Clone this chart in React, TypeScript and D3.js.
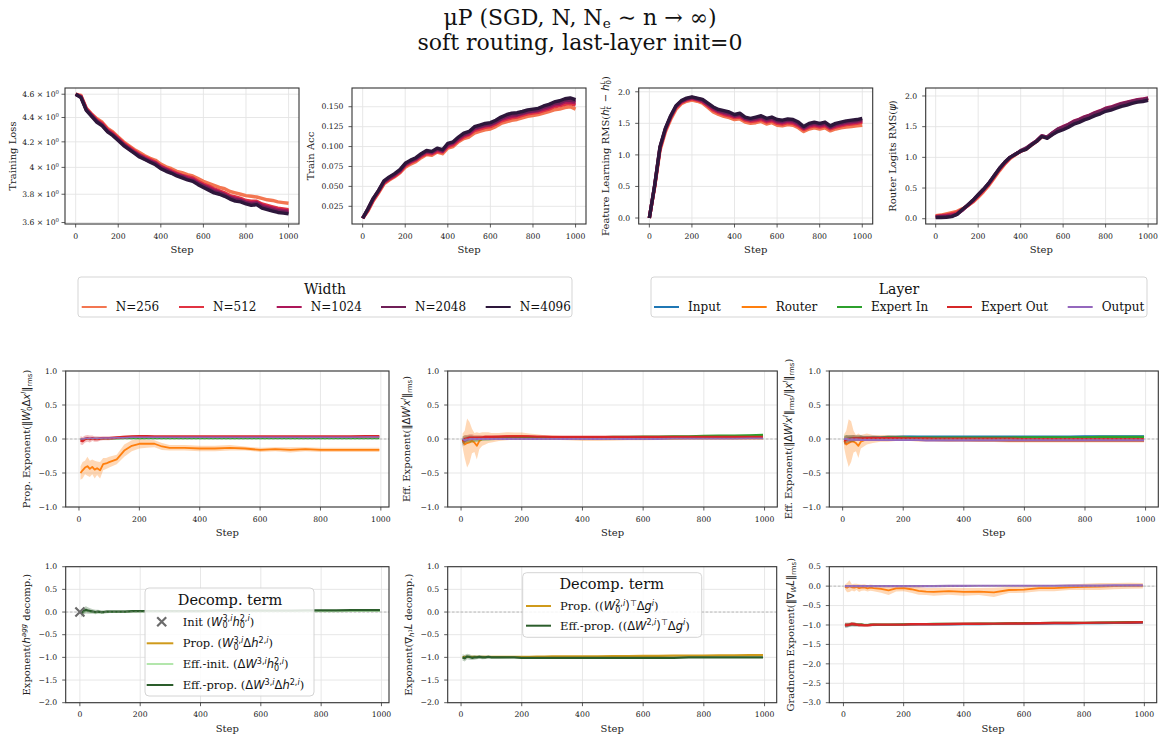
import React from 'react';
import * as d3 from 'd3';

const SERIF = "'DejaVu Serif', serif";
const SANS = "'DejaVu Sans', sans-serif";

// ---------------- DATA ----------------
const STEPS_TOP = [0, 25, 50, 75, 100, 125, 150, 175, 200, 225, 250, 275, 300, 325, 350, 375, 400, 425, 450, 475, 500, 525, 550, 575, 600, 625, 650, 675, 700, 725, 750, 775, 800, 825, 850, 875, 900, 925, 950, 975, 1000];
const WIDTH_LABELS = ['N=256', 'N=512', 'N=1024', 'N=2048', 'N=4096'];
const WIDTH_COLORS = ['#f37651', '#e13342', '#ad1759', '#701f57', '#2d173b'];

const LOSS_256 = [4.60, 4.59, 4.48, 4.43, 4.39, 4.36, 4.31, 4.28, 4.24, 4.20, 4.17, 4.14, 4.115, 4.09, 4.07, 4.055, 4.025, 4.005, 3.99, 3.97, 3.96, 3.945, 3.935, 3.915, 3.895, 3.88, 3.865, 3.85, 3.84, 3.82, 3.81, 3.80, 3.79, 3.785, 3.78, 3.77, 3.76, 3.755, 3.745, 3.74, 3.735];
const LOSS_512 = [4.60, 4.58, 4.475, 4.425, 4.38, 4.35, 4.30, 4.27, 4.23, 4.19, 4.16, 4.13, 4.10, 4.08, 4.06, 4.04, 4.01, 3.99, 3.975, 3.955, 3.94, 3.93, 3.92, 3.895, 3.875, 3.86, 3.84, 3.825, 3.81, 3.79, 3.78, 3.77, 3.755, 3.75, 3.75, 3.73, 3.72, 3.71, 3.70, 3.695, 3.69];
const LOSS_1024 = [4.60, 4.58, 4.47, 4.42, 4.37, 4.34, 4.29, 4.26, 4.22, 4.18, 4.15, 4.12, 4.095, 4.07, 4.05, 4.035, 4.005, 3.985, 3.965, 3.95, 3.935, 3.92, 3.91, 3.885, 3.865, 3.85, 3.83, 3.815, 3.80, 3.78, 3.77, 3.76, 3.745, 3.74, 3.74, 3.72, 3.71, 3.70, 3.69, 3.685, 3.68];
const LOSS_2048 = [4.60, 4.575, 4.465, 4.415, 4.37, 4.335, 4.285, 4.255, 4.215, 4.18, 4.145, 4.115, 4.09, 4.065, 4.045, 4.03, 3.995, 3.98, 3.96, 3.94, 3.93, 3.91, 3.90, 3.88, 3.86, 3.84, 3.82, 3.81, 3.795, 3.775, 3.76, 3.755, 3.74, 3.73, 3.735, 3.71, 3.70, 3.69, 3.68, 3.675, 3.67];
const LOSS_4096 = [4.60, 4.57, 4.46, 4.41, 4.36, 4.33, 4.28, 4.25, 4.21, 4.17, 4.14, 4.11, 4.08, 4.06, 4.04, 4.02, 3.99, 3.97, 3.955, 3.935, 3.92, 3.905, 3.895, 3.87, 3.85, 3.83, 3.81, 3.80, 3.785, 3.765, 3.75, 3.745, 3.73, 3.72, 3.725, 3.70, 3.69, 3.68, 3.67, 3.665, 3.66];

const ACC_256 = [0.010, 0.019, 0.032, 0.042, 0.053, 0.058, 0.062, 0.067, 0.074, 0.078, 0.081, 0.086, 0.090, 0.089, 0.093, 0.091, 0.098, 0.100, 0.106, 0.110, 0.112, 0.117, 0.119, 0.121, 0.122, 0.125, 0.129, 0.131, 0.133, 0.134, 0.136, 0.138, 0.139, 0.140, 0.142, 0.144, 0.146, 0.147, 0.149, 0.150, 0.147];
const ACC_512 = [0.010, 0.020, 0.033, 0.043, 0.054, 0.059, 0.063, 0.068, 0.076, 0.080, 0.083, 0.088, 0.091, 0.091, 0.094, 0.093, 0.100, 0.102, 0.108, 0.112, 0.115, 0.120, 0.122, 0.124, 0.125, 0.128, 0.132, 0.134, 0.136, 0.137, 0.139, 0.141, 0.142, 0.143, 0.145, 0.147, 0.150, 0.151, 0.153, 0.154, 0.152];
const ACC_1024 = [0.010, 0.021, 0.034, 0.044, 0.055, 0.060, 0.064, 0.069, 0.077, 0.081, 0.084, 0.089, 0.093, 0.092, 0.096, 0.094, 0.101, 0.104, 0.109, 0.114, 0.116, 0.122, 0.124, 0.126, 0.127, 0.130, 0.134, 0.136, 0.138, 0.139, 0.141, 0.143, 0.144, 0.145, 0.147, 0.149, 0.152, 0.153, 0.156, 0.156, 0.155];
const ACC_2048 = [0.010, 0.022, 0.035, 0.045, 0.056, 0.061, 0.065, 0.070, 0.078, 0.082, 0.085, 0.090, 0.094, 0.093, 0.097, 0.095, 0.103, 0.105, 0.111, 0.115, 0.118, 0.123, 0.125, 0.127, 0.128, 0.131, 0.135, 0.138, 0.140, 0.140, 0.142, 0.144, 0.145, 0.146, 0.149, 0.151, 0.154, 0.155, 0.158, 0.158, 0.157];
const ACC_4096 = [0.010, 0.022, 0.035, 0.045, 0.057, 0.062, 0.066, 0.071, 0.079, 0.083, 0.086, 0.091, 0.095, 0.094, 0.098, 0.096, 0.104, 0.106, 0.112, 0.117, 0.119, 0.125, 0.127, 0.129, 0.130, 0.133, 0.137, 0.140, 0.142, 0.1425, 0.144, 0.146, 0.147, 0.148, 0.151, 0.153, 0.156, 0.1575, 0.160, 0.161, 0.159];

const FEAT_256 = [0.0, 0.49, 1.07, 1.36, 1.56, 1.72, 1.81, 1.85, 1.87, 1.85, 1.82, 1.75, 1.68, 1.64, 1.61, 1.59, 1.56, 1.57, 1.52, 1.50, 1.51, 1.53, 1.49, 1.51, 1.47, 1.46, 1.48, 1.47, 1.43, 1.37, 1.41, 1.43, 1.41, 1.43, 1.38, 1.41, 1.43, 1.44, 1.45, 1.46, 1.47];
const FEAT_512 = [0.0, 0.50, 1.10, 1.39, 1.59, 1.75, 1.83, 1.87, 1.89, 1.87, 1.84, 1.78, 1.71, 1.67, 1.64, 1.62, 1.59, 1.60, 1.55, 1.53, 1.54, 1.56, 1.52, 1.54, 1.50, 1.49, 1.51, 1.50, 1.46, 1.40, 1.44, 1.46, 1.44, 1.46, 1.41, 1.44, 1.46, 1.48, 1.49, 1.50, 1.52];
const FEAT_1024 = [0.0, 0.51, 1.11, 1.40, 1.60, 1.76, 1.84, 1.88, 1.90, 1.88, 1.85, 1.79, 1.73, 1.69, 1.66, 1.64, 1.61, 1.62, 1.57, 1.55, 1.56, 1.58, 1.54, 1.56, 1.52, 1.51, 1.53, 1.52, 1.48, 1.42, 1.46, 1.48, 1.46, 1.48, 1.43, 1.46, 1.48, 1.50, 1.51, 1.52, 1.54];
const FEAT_2048 = [0.0, 0.52, 1.12, 1.41, 1.61, 1.77, 1.85, 1.89, 1.91, 1.89, 1.87, 1.81, 1.75, 1.70, 1.68, 1.66, 1.62, 1.64, 1.58, 1.56, 1.58, 1.60, 1.56, 1.58, 1.54, 1.53, 1.55, 1.54, 1.50, 1.43, 1.48, 1.50, 1.48, 1.50, 1.44, 1.48, 1.50, 1.52, 1.53, 1.54, 1.56];
const FEAT_4096 = [0.0, 0.52, 1.13, 1.42, 1.62, 1.78, 1.86, 1.90, 1.92, 1.90, 1.88, 1.82, 1.76, 1.72, 1.70, 1.68, 1.64, 1.66, 1.60, 1.58, 1.60, 1.62, 1.58, 1.60, 1.56, 1.55, 1.57, 1.56, 1.52, 1.45, 1.50, 1.52, 1.50, 1.52, 1.46, 1.50, 1.52, 1.54, 1.55, 1.56, 1.58];

const ROUTER_256 = [0.05, 0.06, 0.08, 0.10, 0.12, 0.16, 0.21, 0.27, 0.35, 0.44, 0.54, 0.66, 0.78, 0.89, 0.98, 1.04, 1.10, 1.13, 1.20, 1.26, 1.34, 1.32, 1.38, 1.43, 1.47, 1.51, 1.56, 1.59, 1.63, 1.66, 1.70, 1.73, 1.77, 1.79, 1.82, 1.85, 1.87, 1.89, 1.91, 1.93, 1.95];
const ROUTER_512 = [0.04, 0.05, 0.06, 0.08, 0.10, 0.15, 0.21, 0.28, 0.37, 0.46, 0.56, 0.68, 0.80, 0.90, 0.99, 1.05, 1.10, 1.14, 1.20, 1.26, 1.34, 1.32, 1.38, 1.44, 1.48, 1.52, 1.57, 1.60, 1.64, 1.67, 1.71, 1.74, 1.78, 1.80, 1.83, 1.86, 1.88, 1.90, 1.92, 1.94, 1.96];
const ROUTER_1024 = [0.03, 0.04, 0.05, 0.06, 0.08, 0.14, 0.22, 0.29, 0.38, 0.47, 0.57, 0.69, 0.81, 0.91, 1.00, 1.05, 1.10, 1.14, 1.21, 1.27, 1.35, 1.33, 1.40, 1.46, 1.50, 1.54, 1.59, 1.62, 1.66, 1.69, 1.73, 1.76, 1.80, 1.82, 1.85, 1.88, 1.90, 1.92, 1.94, 1.95, 1.97];
const ROUTER_2048 = [0.025, 0.03, 0.035, 0.04, 0.07, 0.14, 0.22, 0.30, 0.39, 0.48, 0.58, 0.70, 0.82, 0.92, 1.00, 1.05, 1.11, 1.15, 1.21, 1.27, 1.35, 1.33, 1.40, 1.46, 1.49, 1.53, 1.58, 1.61, 1.65, 1.68, 1.72, 1.75, 1.79, 1.81, 1.84, 1.87, 1.89, 1.91, 1.93, 1.94, 1.96];
const ROUTER_4096 = [0.02, 0.02, 0.025, 0.035, 0.07, 0.15, 0.22, 0.30, 0.39, 0.48, 0.58, 0.70, 0.82, 0.92, 1.00, 1.05, 1.10, 1.13, 1.20, 1.26, 1.34, 1.31, 1.37, 1.42, 1.45, 1.49, 1.54, 1.57, 1.61, 1.64, 1.68, 1.71, 1.75, 1.77, 1.80, 1.83, 1.85, 1.88, 1.90, 1.91, 1.93];

const LAYER_LABELS = ['Input', 'Router', 'Expert In', 'Expert Out', 'Output'];
const LAYER_COLORS = ['#1f77b4', '#ff7f0e', '#2ca02c', '#d62728', '#9467bd'];

const STEPS_EXP = [5, 12, 20, 28, 36, 44, 52, 60, 70, 80, 90, 100, 125, 150, 175, 200, 225, 250, 275, 300, 350, 400, 450, 500, 550, 600, 650, 700, 750, 800, 850, 900, 950, 995];
const EARLY_SD = [0.06, 0.06, 0.05, 0.05, 0.05, 0.04, 0.04, 0.04, 0.03, 0.03, 0.03, 0.03, 0.02, 0.02, 0.02, 0.015, 0.015, 0.01, 0.01, 0.01, 0.01, 0.01, 0.01, 0.01, 0.01, 0.01, 0.01, 0.01, 0.01, 0.01, 0.01, 0.01, 0.01, 0.01];

const A_ROUTER = [-0.50, -0.46, -0.42, -0.40, -0.44, -0.41, -0.45, -0.43, -0.46, -0.37, -0.36, -0.34, -0.30, -0.17, -0.10, -0.07, -0.07, -0.07, -0.11, -0.13, -0.13, -0.14, -0.14, -0.13, -0.14, -0.16, -0.15, -0.16, -0.15, -0.16, -0.16, -0.16, -0.16, -0.16];
const A_ROUTER_SD = [0.10, 0.12, 0.10, 0.14, 0.12, 0.11, 0.13, 0.10, 0.12, 0.09, 0.08, 0.08, 0.07, 0.09, 0.08, 0.07, 0.06, 0.05, 0.05, 0.04, 0.04, 0.04, 0.04, 0.04, 0.03, 0.03, 0.03, 0.04, 0.03, 0.03, 0.03, 0.03, 0.03, 0.03];
const A_EXPIN = [0.0, -0.01, 0.0, 0.005, 0.0, 0.005, 0.005, 0.005, 0.005, 0.005, 0.005, 0.005, 0.005, 0.01, 0.01, 0.01, 0.01, 0.01, 0.01, 0.01, 0.01, 0.01, 0.01, 0.01, 0.01, 0.01, 0.01, 0.01, 0.01, 0.01, 0.01, 0.01, 0.01, 0.01];
const A_EXPOUT = [-0.02, -0.03, 0.0, 0.01, 0.0, 0.01, 0.0, 0.0, 0.005, 0.01, 0.01, 0.01, 0.02, 0.03, 0.035, 0.04, 0.04, 0.035, 0.035, 0.035, 0.035, 0.035, 0.035, 0.035, 0.035, 0.035, 0.035, 0.035, 0.035, 0.035, 0.035, 0.035, 0.04, 0.04];
const A_OUTPUT = [0.0, 0.0, 0.01, 0.01, 0.01, 0.01, 0.01, 0.01, 0.01, 0.015, 0.015, 0.015, 0.02, 0.02, 0.025, 0.025, 0.025, 0.025, 0.025, 0.025, 0.025, 0.025, 0.025, 0.025, 0.025, 0.025, 0.025, 0.025, 0.025, 0.025, 0.025, 0.025, 0.03, 0.03];

const B_INPUT = [-0.05, -0.03, -0.01, 0.0, 0.0, 0.0, 0.005, 0.005, 0.005, 0.01, 0.01, 0.01, 0.01, 0.015, 0.015, 0.015, 0.015, 0.015, 0.015, 0.015, 0.015, 0.015, 0.015, 0.015, 0.015, 0.015, 0.02, 0.02, 0.02, 0.02, 0.02, 0.02, 0.02, 0.02];
const B_ROUTER = [-0.02, -0.08, -0.06, -0.05, -0.03, -0.05, -0.10, -0.03, 0.0, 0.01, 0.02, 0.02, 0.03, 0.04, 0.045, 0.045, 0.035, 0.03, 0.02, 0.02, 0.01, 0.0, 0.0, 0.0, 0.0, 0.0, 0.005, 0.005, 0.01, 0.01, 0.01, 0.01, 0.01, 0.01];
const B_ROUTER_SD = [0.10, 0.20, 0.36, 0.30, 0.18, 0.14, 0.20, 0.12, 0.10, 0.09, 0.08, 0.07, 0.06, 0.06, 0.05, 0.05, 0.045, 0.04, 0.035, 0.03, 0.03, 0.03, 0.03, 0.025, 0.02, 0.02, 0.02, 0.02, 0.02, 0.02, 0.02, 0.02, 0.02, 0.02];
const B_EXPIN = [-0.02, -0.01, 0.0, 0.0, 0.0, 0.0, 0.0, 0.005, 0.005, 0.005, 0.005, 0.01, 0.01, 0.01, 0.01, 0.015, 0.015, 0.02, 0.02, 0.02, 0.02, 0.025, 0.025, 0.03, 0.03, 0.035, 0.035, 0.04, 0.04, 0.045, 0.05, 0.05, 0.055, 0.06];
const B_EXPOUT = [-0.03, 0.0, 0.01, 0.02, 0.02, 0.02, 0.02, 0.02, 0.025, 0.03, 0.03, 0.03, 0.035, 0.04, 0.04, 0.04, 0.04, 0.035, 0.035, 0.03, 0.03, 0.03, 0.03, 0.03, 0.03, 0.03, 0.03, 0.03, 0.03, 0.03, 0.03, 0.03, 0.03, 0.03];
const B_OUTPUT = [0.0, -0.02, -0.01, 0.0, 0.0, 0.0, 0.0, 0.0, 0.0, 0.0, 0.0, 0.0, 0.0, 0.0, 0.0, 0.0, 0.0, 0.0, 0.0, 0.0, 0.0, 0.0, 0.0, 0.0, 0.0, 0.0, 0.0, 0.005, 0.005, 0.005, 0.005, 0.005, 0.01, 0.01];

const C_INPUT = [-0.02, 0.0, 0.01, 0.01, 0.01, 0.015, 0.015, 0.02, 0.02, 0.02, 0.02, 0.025, 0.025, 0.03, 0.03, 0.035, 0.035, 0.035, 0.035, 0.035, 0.035, 0.035, 0.035, 0.035, 0.035, 0.035, 0.035, 0.035, 0.035, 0.04, 0.04, 0.04, 0.04, 0.04];
const C_ROUTER = [-0.03, -0.08, -0.06, -0.04, -0.04, -0.06, -0.10, -0.04, -0.02, 0.0, 0.0, 0.0, 0.01, 0.01, 0.01, 0.01, 0.0, -0.01, -0.01, -0.015, -0.02, -0.02, -0.025, -0.025, -0.03, -0.03, -0.03, -0.03, -0.03, -0.03, -0.03, -0.03, -0.03, -0.03];
const C_ROUTER_SD = [0.10, 0.20, 0.35, 0.30, 0.16, 0.12, 0.18, 0.10, 0.09, 0.08, 0.07, 0.06, 0.05, 0.05, 0.04, 0.04, 0.03, 0.03, 0.03, 0.025, 0.025, 0.02, 0.02, 0.02, 0.02, 0.02, 0.02, 0.02, 0.02, 0.02, 0.02, 0.02, 0.02, 0.02];
const C_EXPIN = [-0.01, 0.0, 0.0, 0.005, 0.005, 0.01, 0.01, 0.01, 0.01, 0.01, 0.015, 0.015, 0.015, 0.02, 0.02, 0.02, 0.02, 0.02, 0.02, 0.02, 0.02, 0.02, 0.02, 0.02, 0.02, 0.025, 0.025, 0.025, 0.025, 0.025, 0.03, 0.03, 0.03, 0.03];
const C_EXPOUT = [-0.03, -0.01, 0.0, 0.0, 0.01, 0.01, 0.01, 0.01, 0.01, 0.015, 0.015, 0.015, 0.015, 0.015, 0.015, 0.01, 0.01, 0.01, 0.01, 0.005, 0.005, 0.005, 0.005, 0.005, 0.005, 0.0, 0.0, 0.0, 0.0, 0.0, 0.0, 0.0, 0.0, 0.0];
const C_OUTPUT = [0.0, 0.0, -0.01, -0.01, -0.01, -0.01, -0.01, -0.015, -0.015, -0.015, -0.015, -0.015, -0.015, -0.015, -0.015, -0.015, -0.015, -0.015, -0.02, -0.02, -0.02, -0.02, -0.02, -0.02, -0.02, -0.02, -0.02, -0.02, -0.02, -0.02, -0.02, -0.02, -0.02, -0.02];

const DECOMP_COLORS = { init: '#6b6b6b', prop: '#cf9a1b', effInit: '#b3e6ac', effProp: '#2b5d2b' };
const D_INIT_STEP = [0];
const D_INIT_VAL = [0.0];
const D_EFFINIT = [-0.05, -0.01, 0.03, 0.02, 0.0, 0.0, -0.01, 0.0, -0.01, 0.0, 0.0, 0.0, 0.0, 0.0, 0.01, 0.01, 0.01, 0.01, 0.01, 0.01, 0.01, 0.01, 0.015, 0.015, 0.015, 0.02, 0.02, 0.02, 0.02, 0.02, 0.02, 0.025, 0.025, 0.025];
const D_EFFPROP = [-0.03, 0.02, 0.05, 0.03, 0.02, 0.01, 0.0, 0.01, 0.0, 0.0, 0.01, 0.01, 0.01, 0.01, 0.02, 0.02, 0.02, 0.02, 0.02, 0.02, 0.02, 0.02, 0.03, 0.03, 0.03, 0.03, 0.03, 0.03, 0.035, 0.035, 0.035, 0.04, 0.04, 0.04];
const D_EFFPROP_SD = [0.09, 0.08, 0.08, 0.07, 0.06, 0.05, 0.05, 0.04, 0.04, 0.04, 0.035, 0.03, 0.03, 0.03, 0.025, 0.02, 0.02, 0.02, 0.02, 0.015, 0.015, 0.015, 0.015, 0.01, 0.01, 0.01, 0.01, 0.01, 0.01, 0.01, 0.01, 0.01, 0.01, 0.01];

const E_PROP = [-1.0, -0.99, -0.99, -0.99, -0.99, -0.99, -0.99, -0.99, -0.99, -0.99, -0.99, -0.99, -0.99, -0.99, -0.99, -0.99, -0.99, -0.985, -0.985, -0.98, -0.98, -0.975, -0.975, -0.97, -0.97, -0.965, -0.965, -0.96, -0.96, -0.96, -0.955, -0.955, -0.95, -0.95];
const E_EFFPROP = [-1.0, -1.02, -0.98, -0.99, -1.01, -1.0, -1.0, -0.99, -1.0, -1.0, -0.99, -1.0, -1.0, -1.0, -1.0, -1.01, -1.01, -1.01, -1.01, -1.01, -1.01, -1.01, -1.01, -1.01, -1.01, -1.01, -1.01, -1.01, -1.0, -1.0, -1.0, -1.0, -1.0, -1.0];
const E_EFFPROP_SD = [0.07, 0.07, 0.06, 0.06, 0.05, 0.05, 0.04, 0.04, 0.04, 0.035, 0.03, 0.03, 0.03, 0.025, 0.02, 0.02, 0.02, 0.015, 0.015, 0.015, 0.015, 0.015, 0.01, 0.01, 0.01, 0.01, 0.01, 0.01, 0.01, 0.01, 0.01, 0.01, 0.01, 0.01];

const F_INPUT = [-1.01, -1.01, -1.0, -0.99, -0.99, -1.0, -1.0, -1.0, -1.0, -1.0, -1.0, -1.0, -1.0, -1.0, -0.995, -0.995, -0.99, -0.99, -0.99, -0.99, -0.985, -0.98, -0.98, -0.975, -0.97, -0.97, -0.965, -0.96, -0.96, -0.955, -0.955, -0.95, -0.95, -0.945];
const F_ROUTER = [-0.02, -0.04, 0.0, -0.03, -0.04, -0.02, -0.05, -0.04, -0.03, -0.06, -0.04, -0.05, -0.07, -0.11, -0.06, -0.05, -0.08, -0.12, -0.14, -0.15, -0.13, -0.15, -0.14, -0.16, -0.10, -0.09, -0.05, -0.05, -0.03, -0.02, -0.01, 0.0, 0.01, 0.01];
const F_ROUTER_SD = [0.06, 0.12, 0.15, 0.08, 0.10, 0.08, 0.10, 0.08, 0.08, 0.08, 0.08, 0.08, 0.10, 0.12, 0.08, 0.08, 0.09, 0.10, 0.09, 0.10, 0.09, 0.10, 0.09, 0.12, 0.08, 0.08, 0.08, 0.08, 0.07, 0.08, 0.09, 0.08, 0.08, 0.07];
const F_EXPIN = [-1.0, -1.0, -0.99, -0.98, -0.98, -0.99, -0.99, -0.99, -1.0, -1.0, -0.99, -0.99, -0.99, -0.985, -0.985, -0.98, -0.98, -0.975, -0.975, -0.97, -0.97, -0.965, -0.96, -0.96, -0.955, -0.95, -0.95, -0.945, -0.94, -0.94, -0.935, -0.93, -0.925, -0.92];
const F_EXPOUT = [-1.0, -1.0, -0.99, -0.97, -0.98, -0.99, -1.0, -1.0, -1.01, -1.01, -1.0, -0.99, -0.99, -0.99, -0.99, -0.99, -0.98, -0.98, -0.98, -0.98, -0.975, -0.97, -0.97, -0.965, -0.96, -0.96, -0.955, -0.95, -0.95, -0.945, -0.94, -0.94, -0.935, -0.93];
const F_OUTPUT = [0.0, 0.0, 0.0, 0.0, 0.0, 0.0, 0.0, 0.0, 0.0, 0.0, 0.0, 0.0, 0.0, 0.0, 0.0, 0.0, 0.0, 0.0, 0.0, 0.0, 0.005, 0.005, 0.01, 0.01, 0.01, 0.01, 0.01, 0.01, 0.015, 0.015, 0.015, 0.02, 0.02, 0.02];

const X_TICKS = [0, 200, 400, 600, 800, 1000];
const LOSS_TICKS = [3.6, 3.8, 4.0, 4.2, 4.4, 4.6];
const ACC_TICKS = [0.025, 0.05, 0.075, 0.1, 0.125, 0.15];
const HALF_TICKS_0_2 = [0, 0.5, 1, 1.5, 2];
const EXP_TICKS = [-1, -0.5, 0, 0.5, 1];
const DEC_TICKS = [-2, -1.5, -1, -0.5, 0, 0.5, 1];
const GRAD_TICKS = [-3, -2.5, -2, -1.5, -1, -0.5, 0, 0.5];

// ---------------- RICH TEXT ----------------
type Seg = { t: string; f?: 's' | 'mi' | 'mr'; dy?: number; s?: number; back?: number };
const T = (t: string, back = 0): Seg => ({ t, back });
const MI = (t: string, back = 0): Seg => ({ t, f: 'mi', back });
const MR = (t: string, back = 0): Seg => ({ t, f: 'mr', back });
const SUP = (t: string, f: 's' | 'mi' | 'mr' = 'mi', back = 0): Seg => ({ t, f, dy: -0.38, s: 0.7, back });
const SUB = (t: string, f: 's' | 'mi' | 'mr' = 'mr', back = 0): Seg => ({ t, f, dy: 0.22, s: 0.7, back });

function Rich({ segs, fs }: { segs: Seg[]; fs: number }) {
  let cur = 0;
  return (
    <>
      {segs.map((g, i) => {
        const target = (g.dy || 0) * fs;
        const d = target - cur;
        cur = target;
        const fam = g.f === 'mi' || g.f === 'mr' ? SANS : SERIF;
        return (
          <tspan key={i} dy={d !== 0 ? d : undefined} dx={g.back ? -g.back * fs : undefined}
            fontFamily={fam} fontStyle={g.f === 'mi' ? 'italic' : 'normal'} fontSize={fs * (g.s || 1)}>
            {g.t}
          </tspan>
        );
      })}
    </>
  );
}

// ---------------- PANEL ----------------
type Series = { y: number[]; sd?: number[]; color: string; lw: number };
interface PanelProps {
  id: string; x: number; y: number; w: number; h: number;
  xd: [number, number]; yd: [number, number]; log?: boolean;
  yticks: number[]; yfmt: (v: number) => React.ReactNode;
  ylabel: Seg[]; ylx: number; steps: number[]; series: Series[]; zero?: boolean;
  extra?: (xs: any, ys: any) => React.ReactNode;
}

const f1 = d3.format('.1f');
const f3 = d3.format('.3f');

function Panel(p: PanelProps) {
  const xs = d3.scaleLinear().domain(p.xd).range([p.x, p.x + p.w]);
  const ys: any = (p.log ? d3.scaleLog() : d3.scaleLinear()).domain(p.yd).range([p.y + p.h, p.y]);
  const bottom = p.y + p.h;
  const line = d3.line<number>().x((_, i) => xs(p.steps[i])).y((v) => ys(v));
  const area = (s: Series) =>
    d3.area<number>().x((_, i) => xs(p.steps[i])).y0((v, i) => ys(v - (s.sd as number[])[i])).y1((v, i) => ys(v + (s.sd as number[])[i]))(s.y) || '';
  const fs = 7.7;
  return (
    <g>
      <defs>
        <clipPath id={p.id}><rect x={p.x} y={p.y} width={p.w} height={p.h} /></clipPath>
      </defs>
      {X_TICKS.map((t) => (
        <line key={'gx' + t} x1={xs(t)} x2={xs(t)} y1={p.y} y2={bottom} stroke="#e4e4e4" strokeWidth={0.9} />
      ))}
      {p.yticks.map((t) => (
        <line key={'gy' + t} x1={p.x} x2={p.x + p.w} y1={ys(t)} y2={ys(t)} stroke="#e4e4e4" strokeWidth={0.9} />
      ))}
      <g clipPath={`url(#${p.id})`}>
        {p.series.map((s, i) => (
          <g key={'s' + i}>
            {s.sd && <path d={area(s)} fill={s.color} fillOpacity={0.3} stroke="none" />}
            <path d={line(s.y) || ''} fill="none" stroke={s.color} strokeWidth={s.lw} strokeLinejoin="round" />
          </g>
        ))}
        {p.zero && (
          <line x1={p.x} x2={p.x + p.w} y1={ys(0)} y2={ys(0)} stroke="#999" strokeWidth={0.75} strokeDasharray="2.5,1.8" strokeOpacity={0.85} />
        )}
        {p.extra && p.extra(xs, ys)}
      </g>
      <rect x={p.x} y={p.y} width={p.w} height={p.h} fill="none" stroke="#333" strokeWidth={1.1} />
      {X_TICKS.map((t) => (
        <g key={'tx' + t}>
          <line x1={xs(t)} x2={xs(t)} y1={bottom} y2={bottom + 3.5} stroke="#333" strokeWidth={0.8} />
          <text x={xs(t)} y={bottom + 14.5} textAnchor="middle" fontSize={fs} fill="#222">{t}</text>
        </g>
      ))}
      {p.yticks.map((t) => (
        <g key={'ty' + t}>
          <line x1={p.x - 3.5} x2={p.x} y1={ys(t)} y2={ys(t)} stroke="#333" strokeWidth={0.8} />
          <text x={p.x - (p.log ? 6 : 8.5)} y={ys(t) + fs * 0.36} textAnchor="end" fontSize={fs} fill="#222" style={{ whiteSpace: 'pre' }}>
            {p.yfmt(t)}
          </text>
        </g>
      ))}
      <text x={p.x + p.w / 2} y={bottom + 29} textAnchor="middle" fontSize={10} fill="#222">Step</text>
      <text transform={`translate(${p.ylx},${p.y + p.h / 2}) rotate(-90)`} y={3.5} textAnchor="middle" fontSize={10} fill="#222" style={{ whiteSpace: 'pre' }}>
        <Rich segs={p.ylabel} fs={10} />
      </text>
    </g>
  );
}

const logFmt = (v: number) => (
  <>
    <tspan>{v === 4 ? '4' : v.toFixed(1)}</tspan>
    <tspan fontFamily={SANS}> × </tspan>
    <tspan>10</tspan>
    <tspan dy={-3} fontSize={5.4}>0</tspan>
  </>
);

const widthSeries = (arrs: number[][]): Series[] => arrs.map((y, i) => ({ y, color: WIDTH_COLORS[i], lw: 3.4 }));

const LEG_W_X = [81.7, 179, 276.7, 381, 485.7];
const LEG_L_X = [654, 741.7, 837, 947, 1067.7];

function Cross({ x, y, r, color }: { x: number; y: number; r: number; color: string }) {
  return <path d={`M${x - r},${y - r}L${x + r},${y + r}M${x - r},${y + r}L${x + r},${y - r}`} stroke={color} strokeWidth={2.2} />;
}

export default function App() {
  const topY = 88, topH = 136;
  const midY = 371, midH = 136;
  const botY = 566.7, botH = 136;
  const sdl = 0.415;
  return (
    <svg width={1159} height={736} style={{ position: 'absolute', left: 0, top: 0 }} fontFamily={SERIF}>
      <rect width={1159} height={736} fill="#fff" />
      <text x={580} y={25} textAnchor="middle" fontSize={22} fill="#111" style={{ whiteSpace: 'pre' }}>
        <Rich fs={22} segs={[T('μP (SGD, N, N'), { t: 'e', dy: 0.12, s: 0.62 }, T(' ∼ n → ∞)')]} />
      </text>
      <text x={580} y={50} textAnchor="middle" fontSize={22} fill="#111">soft routing, last-layer init=0</text>

      {/* top row */}
      <Panel id="p1" x={65} y={topY} w={234} h={topH} xd={[-50, 1049]} yd={[3.59, 4.655]} log
        yticks={LOSS_TICKS} yfmt={logFmt} ylabel={[T('Training Loss')]} ylx={12.5}
        steps={STEPS_TOP} series={widthSeries([LOSS_256, LOSS_512, LOSS_1024, LOSS_2048, LOSS_4096])} />
      <Panel id="p2" x={352} y={topY} w={234} h={topH} xd={[-50, 1049]} yd={[0.0028, 0.1735]}
        yticks={ACC_TICKS} yfmt={(v) => f3(v)} ylabel={[T('Train Acc')]} ylx={310}
        steps={STEPS_TOP} series={widthSeries([ACC_256, ACC_512, ACC_1024, ACC_2048, ACC_4096])} />
      <Panel id="p3" x={638.7} y={topY} w={234} h={topH} xd={[-50, 1049]} yd={[-0.095, 2.06]}
        yticks={HALF_TICKS_0_2} yfmt={(v) => f1(v)}
        ylabel={[T('Feature Learning RMS('), MI('h'), SUP('L'), SUB('t', 'mi', 0.39), MR(' − ', -0.12), MI('h'), SUP('L'), SUB('0', 'mr', 0.39), T(')')]}
        ylx={605} steps={STEPS_TOP} series={widthSeries([FEAT_256, FEAT_512, FEAT_1024, FEAT_2048, FEAT_4096])} />
      <Panel id="p4" x={925.7} y={topY} w={231.3} h={topH} xd={[-47, 1042]} yd={[-0.086, 2.13]}
        yticks={HALF_TICKS_0_2} yfmt={(v) => f1(v)} ylabel={[T('Router Logits RMS('), MI('ψ'), T(')')]} ylx={892}
        steps={STEPS_TOP} series={widthSeries([ROUTER_256, ROUTER_512, ROUTER_1024, ROUTER_2048, ROUTER_4096])} />

      {/* legends */}
      <rect x={78} y={277} width={494} height={40} rx={3} fill="#fff" stroke="#d0d0d0" strokeWidth={0.9} />
      <text x={325} y={294} textAnchor="middle" fontSize={14} fill="#111">Width</text>
      {WIDTH_LABELS.map((l, i) => (
        <g key={l}>
          <line x1={LEG_W_X[i]} x2={LEG_W_X[i] + 25} y1={307} y2={307} stroke={WIDTH_COLORS[i]} strokeWidth={2} />
          <text x={LEG_W_X[i] + 34} y={311.3} fontSize={12} fill="#111">{l}</text>
        </g>
      ))}
      <rect x={651} y={277} width={496} height={40} rx={3} fill="#fff" stroke="#d0d0d0" strokeWidth={0.9} />
      <text x={899} y={294} textAnchor="middle" fontSize={14} fill="#111">Layer</text>
      {LAYER_LABELS.map((l, i) => (
        <g key={l}>
          <line x1={LEG_L_X[i]} x2={LEG_L_X[i] + 25} y1={307} y2={307} stroke={LAYER_COLORS[i]} strokeWidth={2} />
          <text x={LEG_L_X[i] + 34} y={311.3} fontSize={12} fill="#111">{l}</text>
        </g>
      ))}

      {/* middle row */}
      <Panel id="pa" x={65.7} y={midY} w={323.3} h={midH} xd={[-44, 1027]} yd={[-1, 1]} zero
        yticks={EXP_TICKS} yfmt={(v) => f1(v)}
        ylabel={[T('Prop. Exponent('), MR('‖'), MI('W'), SUP('l'), SUB('0', 'mr', 0.195), MR('Δ'), MI('x'), SUP('l'), MR('‖'), SUB('rms'), T(')')]}
        ylx={26.7} steps={STEPS_EXP}
        series={[
          { y: A_ROUTER, sd: A_ROUTER_SD, color: LAYER_COLORS[1], lw: 1.8 },
          { y: A_EXPIN, color: LAYER_COLORS[2], lw: 1.8 },
          { y: A_EXPOUT, sd: EARLY_SD, color: LAYER_COLORS[3], lw: 2.6 },
          { y: A_OUTPUT, color: LAYER_COLORS[4], lw: 1.5 },
        ]} />
      <Panel id="pb" x={447.7} y={midY} w={329.6} h={midH} xd={[-44, 1042]} yd={[-1, 1]} zero
        yticks={EXP_TICKS} yfmt={(v) => f1(v)}
        ylabel={[T('Eff. Exponent('), MR('‖Δ'), MI('W'), SUP('l'), MI('x'), SUP('l'), MR('‖'), SUB('rms'), T(')')]}
        ylx={406.7} steps={STEPS_EXP}
        series={[
          { y: B_INPUT, sd: EARLY_SD, color: LAYER_COLORS[0], lw: 1.8 },
          { y: B_ROUTER, sd: B_ROUTER_SD, color: LAYER_COLORS[1], lw: 1.8 },
          { y: B_EXPIN, sd: EARLY_SD, color: LAYER_COLORS[2], lw: 2.2 },
          { y: B_EXPOUT, sd: EARLY_SD, color: LAYER_COLORS[3], lw: 2.2 },
          { y: B_OUTPUT, color: LAYER_COLORS[4], lw: 1.8 },
        ]} />
      <Panel id="pc" x={829.3} y={midY} w={329} h={midH} xd={[-44, 1042]} yd={[-1, 1]} zero
        yticks={EXP_TICKS} yfmt={(v) => f1(v)}
        ylabel={[T('Eff. Exponent('), MR('‖Δ'), MI('W'), SUP('l'), MI('x'), SUP('l'), MR('‖'), SUB('rms'), MR('/‖'), MI('x'), SUP('l'), MR('‖'), SUB('rms'), T(')')]}
        ylx={788.3} steps={STEPS_EXP}
        series={[
          { y: C_INPUT, sd: EARLY_SD, color: LAYER_COLORS[0], lw: 2.2 },
          { y: C_ROUTER, sd: C_ROUTER_SD, color: LAYER_COLORS[1], lw: 1.8 },
          { y: C_EXPIN, sd: EARLY_SD, color: LAYER_COLORS[2], lw: 2.2 },
          { y: C_EXPOUT, sd: EARLY_SD, color: LAYER_COLORS[3], lw: 2.2 },
          { y: C_OUTPUT, color: LAYER_COLORS[4], lw: 2.2 },
        ]} />

      {/* bottom row */}
      <Panel id="pd" x={65.7} y={botY} w={323.3} h={botH} xd={[-47, 1025]} yd={[-2, 1]} zero
        yticks={DEC_TICKS} yfmt={(v) => f1(v)}
        ylabel={[T('Exponent('), MI('h'), SUP('agg'), T(' decomp.)')]}
        ylx={26.7} steps={STEPS_EXP}
        series={[
          { y: D_EFFINIT, color: DECOMP_COLORS.effInit, lw: 2 },
          { y: D_EFFPROP, sd: D_EFFPROP_SD, color: DECOMP_COLORS.effProp, lw: 2.2 },
        ]}
        extra={(xs, ys) => D_INIT_STEP.map((s, i) => (
          <Cross key={i} x={xs(s)} y={ys(D_INIT_VAL[i])} r={4.5} color={DECOMP_COLORS.init} />
        ))} />
      <Panel id="pe" x={447.7} y={botY} w={329} h={botH} xd={[-44, 1040]} yd={[-2, 1]} zero
        yticks={DEC_TICKS} yfmt={(v) => f1(v)}
        ylabel={[T('Exponent('), MR('∇'), SUB('h', 'mi'), { t: '1', f: 'mr', dy: 0.02, s: 0.5 }, MI('L'), T(' decomp.)')]}
        ylx={408} steps={STEPS_EXP}
        series={[
          { y: E_PROP, color: DECOMP_COLORS.prop, lw: 2.2 },
          { y: E_EFFPROP, sd: E_EFFPROP_SD, color: DECOMP_COLORS.effProp, lw: 2.2 },
        ]} />
      <Panel id="pf" x={829.3} y={botY} w={327.4} h={botH} xd={[-47, 1041]} yd={[-3, 0.5]} zero
        yticks={GRAD_TICKS} yfmt={(v) => f1(v)}
        ylabel={[T('Gradnorm Exponent('), MR('‖∇'), SUB('W', 'mi'), MI('L'), MR('‖'), SUB('rms'), T(')')]}
        ylx={790} steps={STEPS_EXP}
        series={[
          { y: F_INPUT, sd: EARLY_SD, color: LAYER_COLORS[0], lw: 2 },
          { y: F_ROUTER, sd: F_ROUTER_SD, color: LAYER_COLORS[1], lw: 1.8 },
          { y: F_EXPIN, sd: EARLY_SD, color: LAYER_COLORS[2], lw: 2 },
          { y: F_EXPOUT, sd: EARLY_SD, color: LAYER_COLORS[3], lw: 2.4 },
          { y: F_OUTPUT, color: LAYER_COLORS[4], lw: 2.2 },
        ]} />

      {/* decomposition legends */}
      <rect x={145} y={588} width={169} height={108} rx={4} fill="#fff" fillOpacity={0.85} stroke="#cfcfcf" strokeWidth={0.9} />
      <text x={230} y={605} textAnchor="middle" fontSize={14.5} fill="#111">Decomp. term</text>
      <Cross x={161.7} y={621.7} r={4.5} color={DECOMP_COLORS.init} />
      <line x1={146.7} x2={173.3} y1={643.3} y2={643.3} stroke={DECOMP_COLORS.prop} strokeWidth={2} />
      <line x1={146.7} x2={173.3} y1={664} y2={664} stroke={DECOMP_COLORS.effInit} strokeWidth={2} />
      <line x1={146.7} x2={173.3} y1={685} y2={685} stroke={DECOMP_COLORS.effProp} strokeWidth={2} />
      <text x={182.7} y={625.7} fontSize={11.5} fill="#111" style={{ whiteSpace: 'pre' }}>
        <Rich fs={11.5} segs={[T('Init ('), MI('W'), SUP('3,', 'mr'), SUP('i'), SUB('0', 'mr', 0.86), MI('h', -sdl), SUP('2,', 'mr'), SUP('i'), SUB('0', 'mr', 0.86), T(')', -sdl)]} />
      </text>
      <text x={182.7} y={647.3} fontSize={11.5} fill="#111" style={{ whiteSpace: 'pre' }}>
        <Rich fs={11.5} segs={[T('Prop. ('), MI('W'), SUP('3,', 'mr'), SUP('i'), SUB('0', 'mr', 0.86), MR('Δ', -sdl), MI('h'), SUP('2,', 'mr'), SUP('i'), T(')')]} />
      </text>
      <text x={182.7} y={668} fontSize={11.5} fill="#111" style={{ whiteSpace: 'pre' }}>
        <Rich fs={11.5} segs={[T('Eff.-init. ('), MR('Δ'), MI('W'), SUP('3,', 'mr'), SUP('i'), MI('h'), SUP('2,', 'mr'), SUP('i'), SUB('0', 'mr', 0.86), T(')', -sdl)]} />
      </text>
      <text x={182.7} y={689} fontSize={11.5} fill="#111" style={{ whiteSpace: 'pre' }}>
        <Rich fs={11.5} segs={[T('Eff.-prop. ('), MR('Δ'), MI('W'), SUP('3,', 'mr'), SUP('i'), MR('Δ'), MI('h'), SUP('2,', 'mr'), SUP('i'), T(')')]} />
      </text>

      <rect x={522.7} y={572.7} width={179} height={64.6} rx={4} fill="#fff" fillOpacity={0.85} stroke="#cfcfcf" strokeWidth={0.9} />
      <text x={611.7} y={589} textAnchor="middle" fontSize={14.5} fill="#111">Decomp. term</text>
      <line x1={526} x2={551} y1={606} y2={606} stroke={DECOMP_COLORS.prop} strokeWidth={2} />
      <line x1={526} x2={551} y1={625.7} y2={625.7} stroke={DECOMP_COLORS.effProp} strokeWidth={2} />
      <text x={560} y={610} fontSize={11.5} fill="#111" style={{ whiteSpace: 'pre' }}>
        <Rich fs={11.5} segs={[T('Prop. (('), MI('W'), SUP('2,', 'mr'), SUP('i'), SUB('0', 'mr', 0.86), MR(')', -sdl), SUP('⊤', 'mr'), MR('Δ'), MI('g'), SUP('i'), T(')')]} />
      </text>
      <text x={560} y={629.7} fontSize={11.5} fill="#111" style={{ whiteSpace: 'pre' }}>
        <Rich fs={11.5} segs={[T('Eff.-prop. (('), MR('Δ'), MI('W'), SUP('2,', 'mr'), SUP('i'), MR(')'), SUP('⊤', 'mr'), MR('Δ'), MI('g'), SUP('i'), T(')')]} />
      </text>
    </svg>
  );
}
